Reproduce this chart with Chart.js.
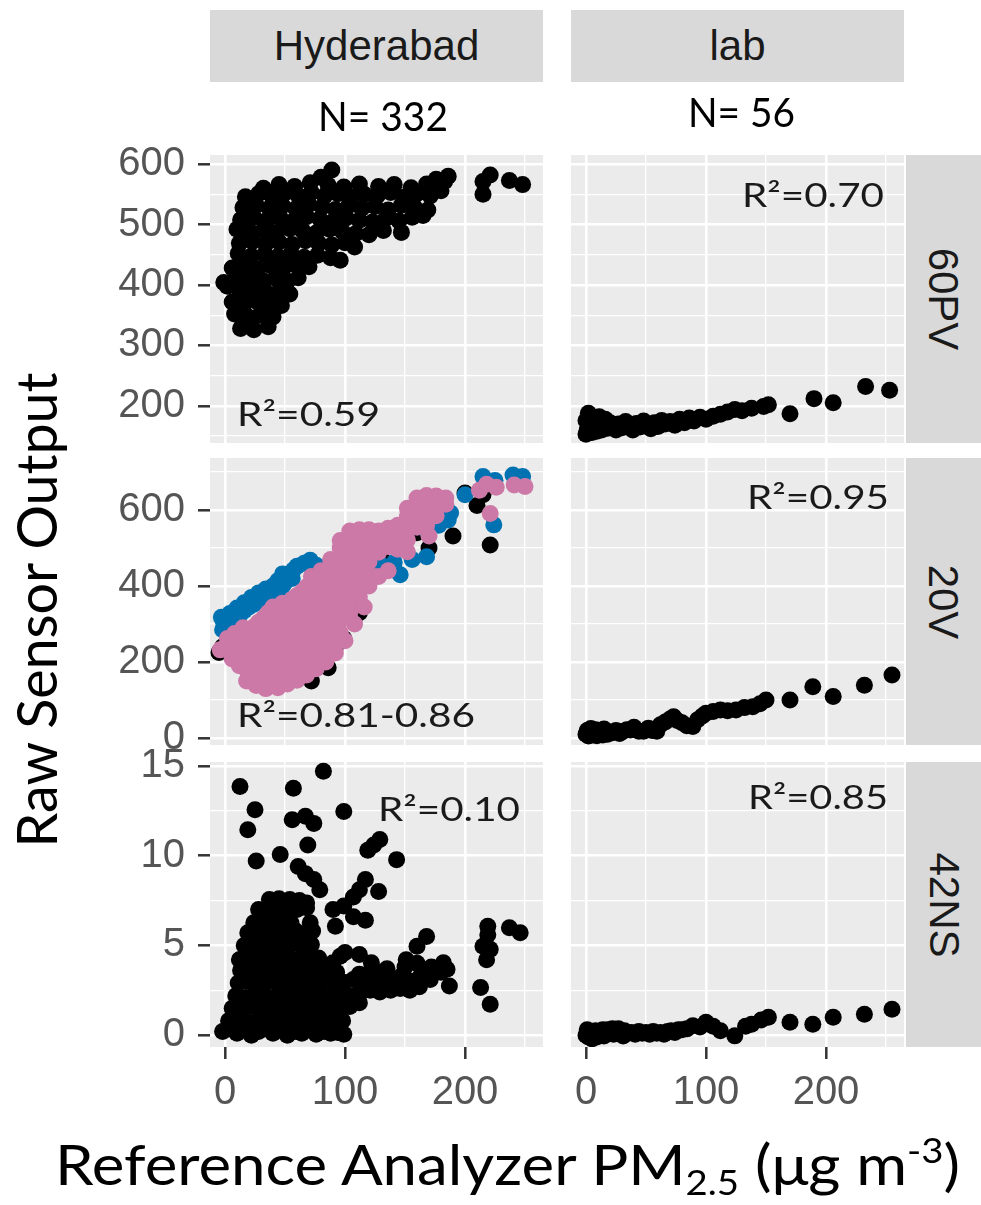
<!DOCTYPE html>
<html>
<head>
<meta charset="utf-8">
<script src="https://cdn.jsdelivr.net/npm/chart.js@4.4.0/dist/chart.umd.min.js"></script>
<style>
  body { margin: 0; background: #fff; }
  #page { position: relative; width: 981px; height: 1205px; overflow: hidden; background: #fff; }
  canvas { position: absolute; }
  .strip { position: absolute; background: #d9d9d9; color: #1a1a1a; display: flex; align-items: center; justify-content: center;
           font-family: "Liberation Sans", Arial, sans-serif; font-size: 42px; line-height: 1; }
  .strip span.v { transform: rotate(90deg); white-space: nowrap; }
  .txt { position: absolute; font-family: Lato, "Open Sans", sans-serif; white-space: nowrap; line-height: 1; transform-origin: left center; }
  .r2 { font-size: 32.5px; color: #1a1a1a; }
  .nn { font-size: 40px; color: #000; }
  .ttl { font-size: 56px; color: #000; }
  sub, sup { font-size: 0.62em; line-height: 0; }
  sub { vertical-align: -0.28em; }
  sup { vertical-align: 0.62em; }
</style>
</head>
<body>
<div id="page">
  <div class="strip" style="left:210px;top:10px;width:333px;height:72px;">Hyderabad</div>
  <div class="strip" style="left:571px;top:10px;width:333px;height:72px;">lab</div>
  <div class="strip" style="left:906px;top:155px;width:75px;height:288px;"><span class="v">60PV</span></div>
  <div class="strip" style="left:906px;top:458px;width:75px;height:287px;"><span class="v">20V</span></div>
  <div class="strip" style="left:906px;top:762px;width:75px;height:285px;"><span class="v">42NS</span></div>

  <!-- each canvas has 24px spare above and below its panel for the tick labels -->
  <canvas id="c11" width="433" height="336" style="left:110px;top:131px;"></canvas>
  <canvas id="c12" width="333" height="336" style="left:571px;top:131px;"></canvas>
  <canvas id="c21" width="433" height="335" style="left:110px;top:434px;"></canvas>
  <canvas id="c22" width="333" height="335" style="left:571px;top:434px;"></canvas>
  <canvas id="c31" width="433" height="403" style="left:110px;top:738px;"></canvas>
  <canvas id="c32" width="333" height="403" style="left:571px;top:738px;"></canvas>

  <div class="txt nn" data-w="130" style="left:318px;top:96px;">N= 332</div>
  <div class="txt nn" data-w="107" style="left:688px;top:92px;">N= 56</div>

  <div class="txt r2" data-w="143" style="left:237px;top:398px;">R²=0.59</div>
  <div class="txt r2" data-w="142" style="left:742px;top:179px;">R²=0.70</div>
  <div class="txt r2" data-w="238" style="left:237px;top:699px;">R²=0.81-0.86</div>
  <div class="txt r2" data-w="142" style="left:747px;top:481px;">R²=0.95</div>
  <div class="txt r2" data-w="142" style="left:378px;top:793px;">R²=0.10</div>
  <div class="txt r2" data-w="140" style="left:748px;top:781px;">R²=0.85</div>

  <div class="txt ttl" data-w="475" data-rot="1" style="left:36px;top:610px;transform-origin:center;">Raw Sensor Output</div>
  <div class="txt ttl" data-w="905" style="left:55px;top:1136px;">Reference Analyzer PM<sub>2.5</sub> (μg m<sup>-3</sup>)</div>
</div>

<script>
// shared x axis
var xTicks = [0, 50, 100, 150, 200, 250];
var xLabels = ['0', '', '100', '', '200', ''];

// y axes, one per sensor row
var y60Ticks = [150, 200, 250, 300, 350, 400, 450, 500, 550, 600];
var y60Labels = ['', '200', '', '300', '', '400', '', '500', '', '600'];
var y20Ticks = [0, 100, 200, 300, 400, 500, 600, 700];
var y20Labels = ['0', '', '200', '', '400', '', '600', ''];
var y42Ticks = [0, 2.5, 5, 7.5, 10, 12.5, 15];
var y42Labels = ['0', '', '5', '', '10', '', '15'];

// Hyderabad 60PV
var hyd60PV = [
  [13,328],[24,326],[36,331],[20,338],
  [8,352],[18,349],[29,350],[40,347],
  [6,372],[16,369],[27,372],[38,368],[47,366],
  [2,398],[12,392],[22,389],[33,391],[44,387],[54,385],
  [-1,404],[9,410],[20,412],[31,408],[42,411],[52,406],[61,412],
  [6,428],[16,431],[27,427],[38,432],[49,429],[59,433],[70,430],
  [11,452],[22,448],[33,451],[44,447],[55,452],[66,446],[77,449],[88,445],[96,441],
  [12,469],[23,472],[34,468],[45,471],[56,467],[67,473],[78,469],[89,466],[100,470],[108,463],
  [10,492],[21,488],[32,491],[43,487],[54,493],[65,489],[76,486],[87,492],[98,488],[109,485],[120,483],[132,490],[147,487],
  [13,508],[24,512],[35,507],[46,511],[57,506],[68,513],[79,509],[90,505],[101,511],[112,507],[123,504],[134,510],[145,506],[156,512],[165,515],
  [15,528],[26,532],[37,527],[48,531],[59,526],[70,533],[81,529],[92,525],[103,531],[114,527],[125,530],[136,524],[147,532],[158,528],[169,524],
  [17,546],[28,551],[39,547],[50,552],[61,548],[72,553],[83,547],[94,551],[105,546],[116,550],[127,548],[138,553],[149,545],[160,551],[171,547],[180,556],
  [32,560],[45,566],[58,563],[71,569],[86,565],[99,562],[112,567],[128,563],[141,566],[155,561],[168,567],[183,571],
  [89,590],[80,578],[186,580],[176,575],
  [215,571],[221,582],[215,550],[237,573],[248,566]
];

// Hyderabad 20V, three units
var hyd20Vpink = [
  [0,238],[6,208],[6,240],[12,190],[12,225],[12,258],
  [18,180],[18,212],[18,244],[18,275],
  [24,168],[24,200],[24,232],[24,264],[24,292],
  [32,152],[32,184],[32,216],[32,248],[32,280],[32,315],
  [40,152],[40,184],[40,216],[40,248],[40,280],[40,312],[40,345],
  [48,160],[48,192],[48,224],[48,256],[48,288],[48,320],[48,355],
  [56,172],[56,204],[56,236],[56,268],[56,300],[56,332],[56,365],
  [64,188],[64,220],[64,252],[64,284],[64,316],[64,348],[64,385],
  [72,208],[72,240],[72,272],[72,304],[72,336],[72,368],[72,400],[72,425],
  [80,225],[80,257],[80,289],[80,321],[80,353],[80,385],[80,417],[80,440],
  [88,250],[88,282],[88,314],[88,346],[88,378],[88,410],[88,442],[88,470],
  [96,278],[96,310],[96,342],[96,374],[96,406],[96,438],[96,470],[96,500],[96,520],
  [104,330],[104,362],[104,394],[104,426],[104,458],[104,490],[104,520],[104,545],
  [112,372],[112,404],[112,436],[112,468],[112,500],[112,530],[112,548],
  [120,400],[120,432],[120,464],[120,496],[120,528],[120,548],
  [128,425],[128,489],[128,521],[128,545],
  [136,440],[136,504],[136,536],[136,552],
  [144,497],[144,529],[144,560],
  [152,490],[152,522],[152,554],[152,585],[152,605],
  [160,555],[160,585],[160,612],[160,632],
  [168,560],[168,590],[168,618],[168,638],
  [176,585],[176,612],[176,637],
  [184,615],[184,632],
  [212,652],[218,668],[226,660],[241,666],[250,662],[221,591],[170,532],
  [18,150],[26,138],[34,130],[44,132],[52,142],[60,152],[68,166],[76,182],[84,200],[92,224],[100,256],[108,300],[116,345],
  [-4,232],[2,262],[8,275],[15,290],[28,305],[36,330],[44,340],[52,350],[60,375],[68,398],[76,420]
];
var hyd20Vblue = [
  [-2,285],[-1,302],[4,296],[8,312],[12,322],[16,335],[20,345],[24,352],[28,362],[32,368],
  [38,376],[44,385],[48,400],[50,410],[48,432],[56,420],[57,442],[71,468],[90,425],[129,459],
  [141,462],[146,430],[156,470],[168,477],[168,547],[178,560],[186,574],[188,592],[215,688],[225,678],
  [240,692],[248,688],[224,561],[150,520],[110,480],[60,300],[100,400],[130,500],[180,600],[40,250],
  [20,250],[84,350],[120,450],[160,580],[200,640],
  [-3,318],[4,328],[10,342],[16,356],[22,370],[28,382],[34,392],[40,400],[44,414],[52,425],[60,452],[66,460],[76,455]
];
var hyd20Vblack = [
  [190,532],[221,508],[210,612],[82,195],[78,188],[99,262],[2,228],[-2,240],[45,140],[30,148],
  [66,175],[92,240],[108,320],[180,585],[160,540],[140,450],[170,500],[120,430],[50,250],[70,300],
  [90,350],[110,420],[130,480],[150,560],[175,620],[200,645],[215,640],[60,200],[40,200],[20,220],
  [72,150],[86,185],[-5,225],[112,330]
];

// Hyderabad 42NS
var hyd42NS = [
  [-2,0.2],[4,0.4],[10,0.1],[16,0.3],[22,0],[28,0.2],[34,0.4],[40,0.1],[46,0.3],[52,0],[58,0.2],[64,0.1],[70,0.3],[76,0.05],[82,0.2],[88,0.1],[94,0.15],[99,0.05],
  [3,0.8],[12,0.9],[20,0.7],[28,0.85],[36,0.75],[44,0.9],[52,0.8],[60,0.7],[68,0.85],[76,0.8],[84,0.9],[92,0.75],[98,0.8],
  [6,1.5],[14,1.4],[22,1.6],[30,1.5],[38,1.4],[46,1.55],[54,1.5],[62,1.45],[70,1.6],[78,1.5],[86,1.4],[94,1.55],[104,1.6],[112,1.8],
  [9,2.2],[17,2.1],[25,2.3],[33,2.2],[41,2.1],[49,2.25],[57,2.2],[65,2.15],[73,2.3],[81,2.2],[89,2.1],[97,2.3],[105,2.2],[113,2.4],[121,2.5],
  [11,2.9],[19,3.0],[27,2.85],[35,2.95],[43,2.9],[51,3.0],[59,2.85],[67,2.95],[75,2.9],[83,3.0],[91,2.8],[99,2.95],[107,3.1],[115,3.0],[123,2.9],[131,3.2],[139,3.0],[147,3.3],[155,3.0],[163,3.3],[171,3.1],[180,3.5],[187,2.74],
  [129,2.4],[138,2.5],[146,2.6],[154,2.5],[162,2.7],[122,3.6],[112,3.4],[135,3.7],[150,3.8],[160,4.0],[172,3.8],[182,4.04],[185,3.67],[168,5.5],[160,4.96],[151,4.2],[143,2.74],[130,3.5],
  [13,3.6],[21,3.7],[29,3.55],[37,3.65],[45,3.6],[53,3.7],[61,3.55],[69,3.65],[77,3.6],[85,3.7],[93,3.5],
  [12,4.2],[22,4.3],[30,4.4],[38,4.25],[46,4.35],[54,4.3],[62,4.2],[70,4.4],[78,4.3],[90,4.04],[96,4.4],
  [16,5.0],[24,5.1],[32,4.95],[40,5.05],[48,5.0],[56,5.1],[64,4.95],[72,5.05],
  [19,5.7],[27,5.8],[35,5.65],[43,5.75],[51,5.7],[59,5.8],[67,5.65],[73,5.8],
  [24,6.26],[31,6.4],[39,6.3],[47,6.35],[55,6.25],[71,6.26],
  [28,7.0],[36,7.1],[44,6.95],[52,7.05],[60,7.0],[68,7.1],
  [37,7.56],[45,7.6],[54,7.56],[62,7.5],[68,7.37],
  [90,7.0],[99,7.2],[92,6.07],[107,6.6],[117,6.4],[107,7.7],[112,8.1],[117,8.67],[128,8.0],[100,4.6],[122,4.04],[112,4.5],
  [82,14.7],[12.5,13.85],[57,13.76],[25,12.56],[99,12.46],[19,11.44],[56,12.0],[67,12.2],[74,11.8],[69,10.6],
  [26,9.7],[46,10.06],[124,10.6],[129,10.9],[119,10.3],[143,9.78],[61,9.4],[67,9.0],[74,8.67],[79,8.1],[12.5,4.2],
  [219,6.07],[219,5.6],[215,4.96],[221,4.78],[218,4.2],[237,5.98],[246,5.7],[213,2.65],[221,1.72]
];

// lab, 56 samples per sensor
var lab60PV = [
  [0,153],[1,160],[2,168],[0,176],[3,184],[5,156],[6,164],[4,172],[7,180],[2,188],
  [9,158],[10,167],[8,175],[11,182],[13,160],[14,170],[16,178],[18,163],[20,172],[22,166],
  [25,160],[27,170],[30,164],[33,174],[36,167],[39,160],[42,171],[45,165],[48,175],[51,168],
  [54,162],[57,172],[60,166],[63,176],[66,170],[70,174],[74,168],[78,178],[82,172],[86,180],
  [90,175],[95,181],[100,178],[106,183],[112,186],[118,190],[124,194],[130,192],[138,196],[148,199],
  [152,202],[170,187],[190,212],[206,205],[233,232],[253,226]
];
var lab20V = [
  [0,10],[1,20],[2,5],[3,15],[4,25],[5,8],[6,18],[7,12],[8,22],[9,6],
  [10,16],[11,10],[12,20],[13,14],[14,8],[15,24],[16,12],[17,18],[18,10],[20,16],
  [22,14],[25,20],[28,12],[31,18],[34,22],[37,21],[40,28],[44,18],[48,18],[52,26],
  [55,20],[59,18],[62,35],[66,42],[70,50],[73,56],[76,46],[80,40],[84,32],[89,30],
  [93,48],[97,58],[100,65],[106,70],[112,74],[118,72],[125,74],[132,80],[139,82],[145,90],
  [150,100],[170,100],[189,135],[206,109],[232,139],[255,166]
];
var lab42NS = [
  [0,0],[1,0.1],[2,-0.1],[3,0.2],[4,0],[6,0.1],[8,0.25],[10,0.05],[12,0.15],[14,0.3],
  [1,0.3],[5,-0.2],[9,-0.1],[15,-0.05],[17,0.1],[18,0.3],[20,0.2],[22,0.35],[23,0.05],[26,0.2],
  [27,0.35],[29,0.1],[31,-0.05],[32,0.25],[35,0.1],[38,0.15],[41,0.05],[44,0.2],[47,0.1],[50,0.15],
  [53,0.05],[56,0.2],[59,0.1],[62,0.15],[65,0.05],[68,0.2],[71,0.25],[74,0.15],[77,0.3],[80,0.3],
  [84,0.35],[89,0.52],[95,0.45],[100,0.72],[106,0.5],[112,0.24],[124,-0.04],[133,0.5],[138,0.61],[146,0.85],
  [152,1.0],[170,0.72],[189,0.61],[206,1.0],[232,1.17],[255,1.44]
];

// grey panel behind the grid
var panelBg = {
  id: 'panelBg',
  beforeDraw: function(chart) {
    var a = chart.chartArea, ctx = chart.ctx;
    ctx.save();
    ctx.fillStyle = '#ebebeb';
    ctx.fillRect(a.left, a.top, a.width, a.height);
    ctx.restore();
  }
};

function pts(list, color) {
  return {
    data: list.map(function(p) { return {x: p[0], y: p[1]}; }),
    backgroundColor: color, pointBackgroundColor: color,
    pointBorderWidth: 0, pointRadius: 8.5, clip: 0
  };
}

function axis(ticks, labels, min, max, show, horiz) {
  return {
    type: 'linear', min: min, max: max,
    afterBuildTicks: function(s) { s.ticks = ticks.map(function(v) { return {value: v}; }); },
    afterFit: function(s) {
      if (horiz) s.height = show ? 70 : 0; else s.width = show ? 100 : 0;
      // keep the panel edge fixed, labels may stick out
      s.paddingTop = s.paddingBottom = s.paddingLeft = s.paddingRight = 0;
    },
    border: {display: false},
    grid: {
      color: '#ffffff',
      lineWidth: function(c) { return labels[c.index] ? 2.6 : 1.3; },
      drawTicks: show, tickLength: 12, tickWidth: 2.5,
      tickColor: function(c) { return labels[c.index] ? '#333333' : 'rgba(0,0,0,0)'; }
    },
    ticks: {
      display: show, autoSkip: false, maxRotation: 0, padding: horiz ? 10 : 13,
      color: '#555555', font: {family: '"Liberation Sans", Arial, sans-serif', size: 40},
      callback: function(v, i) { return labels[i]; }
    }
  };
}

function panel(id, datasets, yTicks, yLabels, yMin, yMax, showY, showX) {
  new Chart(document.getElementById(id), {
    type: 'scatter',
    data: {datasets: datasets},
    options: {
      responsive: false, animation: false, events: [],
      layout: {padding: {top: 24, bottom: 24, left: 0, right: 0}, autoPadding: false},
      plugins: {legend: {display: false}, tooltip: {enabled: false}},
      scales: {
        x: axis(xTicks, xLabels, -12.5, 265, showX, true),
        y: axis(yTicks, yLabels, yMin, yMax, showY, false)
      }
    },
    plugins: [panelBg]
  });
}

panel('c11', [pts(hyd60PV, '#000')], y60Ticks, y60Labels, 138.6, 615, true, false);
panel('c12', [pts(lab60PV, '#000')], y60Ticks, y60Labels, 138.6, 615, false, false);
panel('c21', [pts(hyd20Vpink, '#cc79a7'), pts(hyd20Vblue, '#0072b2'), pts(hyd20Vblack, '#000')], y20Ticks, y20Labels, -18.4, 737, true, false);
panel('c22', [pts(lab20V, '#000')], y20Ticks, y20Labels, -18.4, 737, false, false);
panel('c31', [pts(hyd42NS, '#000')], y42Ticks, y42Labels, -0.66, 15.22, true, true);
panel('c32', [pts(lab42NS, '#000')], y42Ticks, y42Labels, -0.66, 15.22, false, true);

// stretch the free text to the widths measured on the picture
document.querySelectorAll('[data-w]').forEach(function(el) {
  var k = (+el.dataset.w) / el.getBoundingClientRect().width;
  el.style.transform = (el.dataset.rot ? 'translate(-50%,-50%) rotate(-90deg) ' : '') + 'scaleX(' + k + ')';
});
</script>
</body>
</html>
